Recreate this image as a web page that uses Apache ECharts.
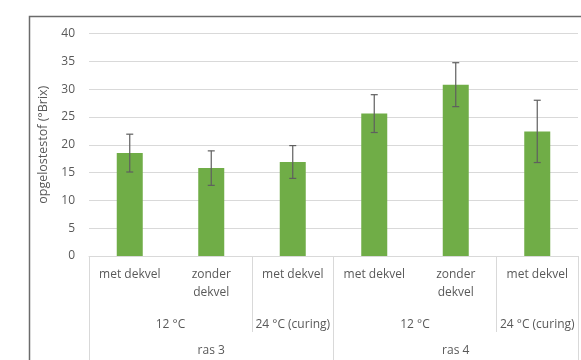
<!DOCTYPE html>
<html><head><meta charset="utf-8">
<script src="https://cdn.jsdelivr.net/npm/echarts@6/dist/echarts.min.js"></script>
<style>html,body{margin:0;padding:0;background:#fff}#c{width:581px;height:360px}</style>
</head><body><div id="c"></div>
<script>
const level1 = ['met dekvel', 'zonder\ndekvel', 'met dekvel', 'met dekvel', 'zonder\ndekvel', 'met dekvel'];
const level2 = ['', '', '12 °C', '', '', '24 °C (curing)', '', '', '12 °C', '', '', '24 °C (curing)', ''];
const level3 = ['', '', '', 'ras 3', '', '', '', '', '', 'ras 4', '', '', ''];
const level2Sep = [0, 4, 6, 10, 12];
const level3Sep = [0, 6, 12];
const means = [18.5, 15.8, 16.9, 25.6, 30.8, 22.4];
const errs = [3.4, 3.1, 2.95, 3.4, 3.95, 5.6];
const yTicks = { min: 0, max: 40, interval: 5 };

const font = 'Open Sans';
const txt = '#595959';
const sep = '#d9d9d9';
const chart = echarts.init(document.getElementById('c'), null, { renderer: 'canvas' });
chart.setOption({
  backgroundColor: '#fff',
  animation: false,
  textStyle: { fontFamily: font },
  grid: { left: 89, top: 33.5, height: 223, width: 495 },
  graphic: [{ type: 'rect', left: 27, top: 14, shape: { width: 620, height: 400 }, style: { fill: 'none', stroke: '#6b6b6b', lineWidth: 1.5 }, z: 100 }],
  yAxis: {
    type: 'value', min: yTicks.min, max: yTicks.max, interval: yTicks.interval,
    name: 'opgelostestof (°Brix)', nameLocation: 'middle', nameGap: 35,
    nameTextStyle: { color: txt, fontSize: 12.5, fontFamily: font },
    axisLine: { show: false }, axisTick: { show: false },
    axisLabel: { color: txt, fontSize: 12, margin: 14, fontFamily: font },
    splitLine: { lineStyle: { color: sep, width: 1 } }
  },
  xAxis: [
    { type: 'category', data: level1, position: 'bottom', offset: 0,
      axisLine: { lineStyle: { color: sep } }, axisTick: { show: false },
      axisLabel: { color: txt, fontSize: 12, lineHeight: 18, margin: 10, interval: 0, fontFamily: font } },
    { type: 'category', data: level2, boundaryGap: false, position: 'bottom', offset: 0,
      axisLine: { show: false },
      axisTick: { show: true, length: 76, interval: (i) => level2Sep.includes(i), lineStyle: { color: sep } },
      axisLabel: { color: txt, fontSize: 12, lineHeight: 18, margin: 59.5, interval: 0, fontFamily: font } },
    { type: 'category', data: level3, boundaryGap: false, position: 'bottom', offset: 0,
      axisLine: { show: false },
      axisTick: { show: true, length: 120, interval: (i) => level3Sep.includes(i), lineStyle: { color: sep } },
      axisLabel: { color: txt, fontSize: 12, lineHeight: 18, margin: 86, interval: 0, fontFamily: font } }
  ],
  series: [
    { type: 'bar', xAxisIndex: 0, data: means, barWidth: 26, itemStyle: { color: '#70ad47' } },
    { type: 'custom', xAxisIndex: 0, z: 10,
      data: means.map((m, i) => [i, m - errs[i], m + errs[i]]),
      renderItem: function (params, api) {
        const lo = api.coord([api.value(0), api.value(1)]);
        const hi = api.coord([api.value(0), api.value(2)]);
        const w = 3.5;
        const st = { stroke: '#5f5f5f', lineWidth: 1.2 };
        return { type: 'group', children: [
          { type: 'line', shape: { x1: hi[0], y1: hi[1], x2: lo[0], y2: lo[1] }, style: st },
          { type: 'line', shape: { x1: hi[0] - w, y1: hi[1], x2: hi[0] + w, y2: hi[1] }, style: st },
          { type: 'line', shape: { x1: lo[0] - w, y1: lo[1], x2: lo[0] + w, y2: lo[1] }, style: st }
        ]};
      }
    }
  ]
});
</script></body></html>
